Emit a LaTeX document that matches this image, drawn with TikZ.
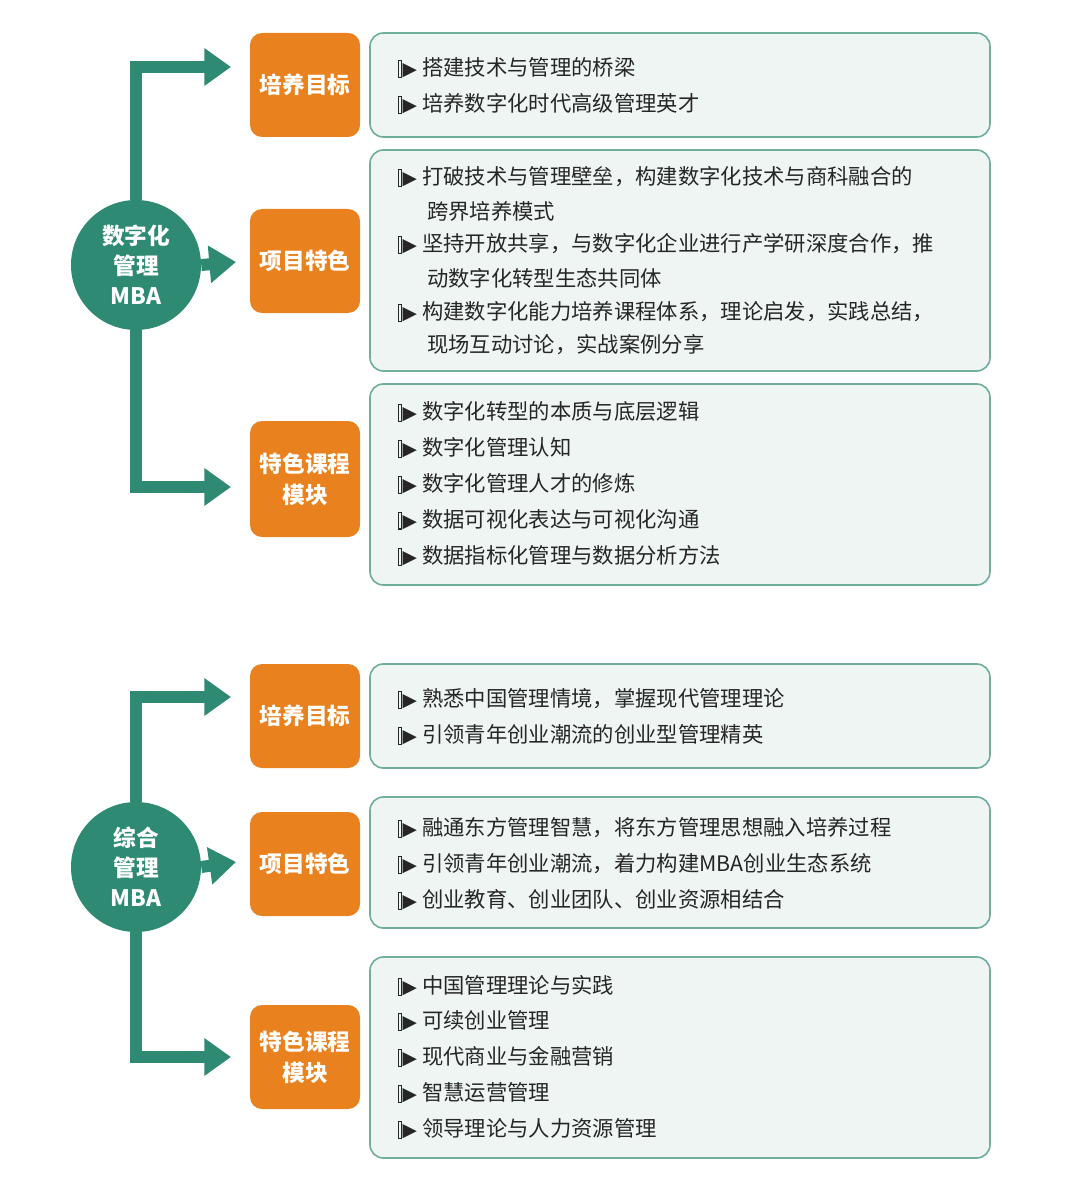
\documentclass[tikz,border=0pt]{standalone}
\usepackage{fontspec}
\setmainfont{Noto Sans CJK SC}
\newfontfamily\djfont{DejaVu Sans}
\usetikzlibrary{arrows.meta}
\definecolor{teal1}{HTML}{2E8A73}
\definecolor{org}{HTML}{E9811E}
\definecolor{lite}{HTML}{EEF5F3}
\definecolor{bord}{HTML}{6FAE9B}
\newcommand{\bul}{{\setlength\fboxsep{0pt}\setlength\fboxrule{0.8pt}\raisebox{-0.5pt}{\framebox[3pt]{\rule{0pt}{11.5pt}}}\hspace{0.2pt}{\djfont\fontsize{14}{14}\selectfont ▶}}\hspace{4pt}}
\begin{document}
\begin{tikzpicture}[x=0.75pt,y=-0.75pt,
 circ/.style={circle,fill=teal1,text=white,minimum size=97.5pt,inner sep=0pt,align=center,font=\fontsize{17}{22.5}\selectfont\bfseries},
 obox/.style={rounded corners=9pt,fill=org,text=white,align=center,font=\fontsize{17}{23}\selectfont\bfseries,inner sep=0pt},
 tbox/.style={rounded corners=10pt,fill=lite,draw=bord,line width=1.2pt},
 conn/.style={teal1,line width=9pt,-{Triangle[length=20pt,width=27pt]}},
 ln/.style={anchor=west,inner sep=0pt,font=\fontsize{16}{18}\selectfont,text=black!85}]
\useasboundingbox (0,0) rectangle (1080,1187);
\newcommand{\obx}[4]{\fill[org,rounded corners=9pt] (250,#1) rectangle (360,#2); \node[obox] (#3) at (305,{(#1+#2)/2}) {#4};}
\newcommand{\tbx}[3]{\draw[tbox] (370,#1) rectangle (990,#2); \coordinate (#3) at (370,{(#1+#2)/2});}
\newcommand{\li}[3]{\node[ln] (#1) at (398,#2) {#3};}
% ---- section 1
\node[circ] (c1) at (136,265) {数字化\\管理\\MBA};
\obx{33}{137}{o1}{培养目标}
\obx{209}{313}{o2}{项目特色}
\obx{421}{537}{o3}{特色课程\\模块}
\coordinate (a1) at (231,67); \coordinate (a2) at (236,262); \coordinate (a3) at (231,487);
\draw[conn] (c1.north) |- (a1);
\draw[conn] (c1.east) -- (a2);
\draw[conn] (c1.south) |- (a3);
\tbx{33}{137}{t1}
\tbx{150}{371}{t2}
\tbx{384}{585}{t3}
\li{l1}{68}{\bul 搭建技术与管理的桥梁}
\li{l2}{104}{\bul 培养数字化时代高级管理英才}
\li{l3}{177}{\bul 打破技术与管理壁垒，构建数字化技术与商科融合的}
\node[ln] (l4) at (427,211) {跨界培养模式};
\li{l5}{244}{\bul 坚持开放共享，与数字化企业进行产学研深度合作，推}
\node[ln] (l6) at (427,278) {动数字化转型生态共同体};
\li{l7}{312}{\bul 构建数字化能力培养课程体系，理论启发，实践总结，}
\node[ln] (l8) at (427,345) {现场互动讨论，实战案例分享};
\li{l9}{412}{\bul 数字化转型的本质与底层逻辑}
\li{l10}{448}{\bul 数字化管理认知}
\li{l11}{484}{\bul 数字化管理人才的修炼}
\li{l12}{520}{\bul 数据可视化表达与可视化沟通}
\li{l13}{556}{\bul 数据指标化管理与数据分析方法}
% ---- section 2
\node[circ] (c2) at (136,867) {综合\\管理\\MBA};
\obx{664}{768}{p1}{培养目标}
\obx{812}{916}{p2}{项目特色}
\obx{1005}{1109}{p3}{特色课程\\模块}
\coordinate (b1) at (231,697); \coordinate (b2) at (236,862); \coordinate (b3) at (231,1057);
\draw[conn] (c2.north) |- (b1);
\draw[conn] (c2.east) -- (b2);
\draw[conn] (c2.south) |- (b3);
\tbx{664}{768}{s1}
\tbx{797}{928}{s2}
\tbx{957}{1158}{s3}
\li{m1}{699}{\bul 熟悉中国管理情境，掌握现代管理理论}
\li{m2}{735}{\bul 引领青年创业潮流的创业型管理精英}
\li{m3}{828}{\bul 融通东方管理智慧，将东方管理思想融入培养过程}
\li{m4}{864}{\bul 引领青年创业潮流，着力构建MBA创业生态系统}
\li{m5}{900}{\bul 创业教育、创业团队、创业资源相结合}
\li{m6}{986}{\bul 中国管理理论与实践}
\li{m7}{1021}{\bul 可续创业管理}
\li{m8}{1057}{\bul 现代商业与金融营销}
\li{m9}{1093}{\bul 智慧运营管理}
\li{m10}{1129}{\bul 领导理论与人力资源管理}
\end{tikzpicture}
\end{document}
